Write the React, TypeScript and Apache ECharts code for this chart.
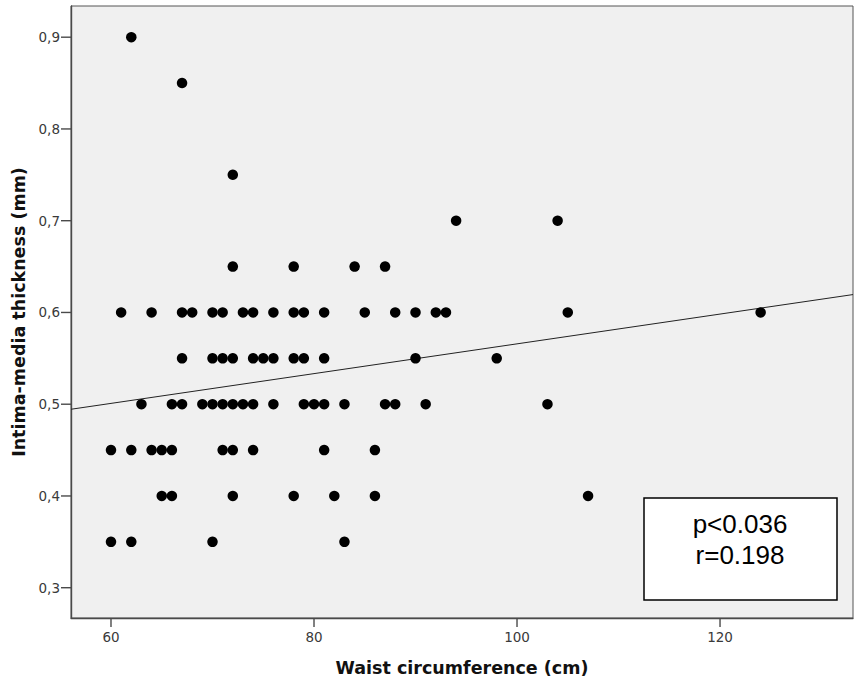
import React, { useEffect, useRef } from "react";
import * as echarts from "echarts";

// Waist circumference (cm) grouped by intima-media thickness row (mm)
const row090 = [62];
const row085 = [67];
const row075 = [72];
const row070 = [94, 104];
const row065 = [72, 78, 84, 87];
const row060 = [61, 64, 67, 68, 70, 71, 73, 74, 76, 78, 79, 81, 85, 88, 90, 92, 93, 105, 124];
const row055 = [67, 70, 71, 72, 74, 75, 76, 78, 79, 81, 90, 98];
const row050 = [63, 66, 67, 69, 70, 71, 72, 73, 74, 76, 79, 80, 81, 83, 87, 88, 91, 103];
const row045 = [60, 62, 64, 65, 66, 71, 72, 74, 81, 86];
const row040 = [65, 66, 72, 78, 82, 86, 107];
const row035 = [60, 62, 70, 83];

const rowValues = [0.9, 0.85, 0.75, 0.7, 0.65, 0.6, 0.55, 0.5, 0.45, 0.4, 0.35];
const rows = [row090, row085, row075, row070, row065, row060, row055, row050, row045, row040, row035];

// fit line end points
const fitX = [56.06, 133.1];
const fitY = [0.4945, 0.6195];

const xTicks = [60, 80, 100, 120];
const yTicks = [0.3, 0.4, 0.5, 0.6, 0.7, 0.8, 0.9];

const statLines = ["p<0.036", "r=0.198"];

const X_MIN = 56.06;
const X_MAX = 133.1;
const Y_MIN = 0.267;
const Y_MAX = 0.934;

export default function App() {
  const ref = useRef<HTMLDivElement>(null);
  useEffect(() => {
    document.body.style.margin = "0";
    const chart = echarts.init(ref.current!, null, { renderer: "svg" });
    const points: number[][] = [];
    rows.forEach((r, i) => r.forEach((x) => points.push([x, rowValues[i]])));
    const arial = "'Liberation Sans', Arial, sans-serif";
    const verdana = "'DejaVu Sans', Verdana, sans-serif";
    const axisColor = "#4a4a4a";
    chart.setOption({
      animation: false,
      backgroundColor: "#ffffff",
      grid: {
        left: 71,
        top: 6,
        right: 1,
        bottom: 71,
        show: true,
        backgroundColor: "#f0f0f0",
        borderColor: "#555",
        borderWidth: 1,
      },
      xAxis: {
        type: "value",
        min: X_MIN,
        max: X_MAX,
        name: "Waist circumference (cm)",
        nameLocation: "middle",
        nameGap: 41,
        nameTextStyle: { fontFamily: verdana, fontWeight: "bold", fontSize: 17.5, color: "#111" },
        axisLine: { show: true, onZero: false, lineStyle: { color: axisColor, width: 1.4 } },
        axisTick: { show: false },
        axisLabel: { customValues: xTicks, fontFamily: verdana, fontSize: 13.5, color: "#3a3a3a", margin: 12 },
        splitLine: { show: false },
      },
      yAxis: {
        type: "value",
        min: Y_MIN,
        max: Y_MAX,
        name: "Intima-media thickness (mm)",
        nameLocation: "middle",
        nameGap: 40,
        nameTextStyle: { fontFamily: verdana, fontWeight: "bold", fontSize: 17.5, color: "#111" },
        axisLine: { show: true, onZero: false, lineStyle: { color: axisColor, width: 1.4 } },
        axisTick: { show: false },
        axisLabel: {
          customValues: yTicks,
          fontFamily: verdana,
          fontSize: 13.5,
          color: "#3a3a3a",
          margin: 11,
          formatter: (v: number) => v.toFixed(1).replace(".", ","),
        },
        splitLine: { show: false },
      },
      series: [
        {
          type: "custom",
          silent: true,
          clip: false,
          data: xTicks.map((v) => [v, Y_MIN]),
          renderItem: (params: any, api: any) => {
            const p = api.coord([api.value(0), api.value(1)]);
            return {
              type: "line",
              shape: { x1: p[0], y1: p[1], x2: p[0], y2: p[1] + 9 },
              style: { stroke: axisColor, lineWidth: 1.4 },
            };
          },
          z: 5,
        },
        {
          type: "custom",
          silent: true,
          clip: false,
          data: yTicks.map((v) => [X_MIN, v]),
          renderItem: (params: any, api: any) => {
            const p = api.coord([api.value(0), api.value(1)]);
            return {
              type: "line",
              shape: { x1: p[0] - 10, y1: p[1], x2: p[0], y2: p[1] },
              style: { stroke: axisColor, lineWidth: 1.4 },
            };
          },
          z: 5,
        },
        {
          type: "line",
          data: fitX.map((x, i) => [x, fitY[i]]),
          showSymbol: false,
          symbol: "none",
          lineStyle: { color: "#222", width: 1 },
          z: 2,
          silent: true,
        },
        {
          type: "scatter",
          data: points,
          symbol: "circle",
          symbolSize: 10.5,
          itemStyle: { color: "#000", opacity: 1 },
          z: 3,
        },
      ],
      graphic: [
        {
          type: "rect",
          shape: { x: 644, y: 498, width: 193, height: 102 },
          style: { fill: "#fff", stroke: "#000", lineWidth: 1.5 },
          z: 10,
        },
        {
          type: "text",
          x: 740,
          y: 539,
          style: {
            text: statLines.join("\n"),
            font: `26px ${arial}`,
            fill: "#000",
            align: "center",
            verticalAlign: "middle",
            lineHeight: 31,
          },
          z: 11,
        },
      ],
    });
    return () => chart.dispose();
  }, []);
  return <div ref={ref} style={{ width: 854, height: 689 }} />;
}
